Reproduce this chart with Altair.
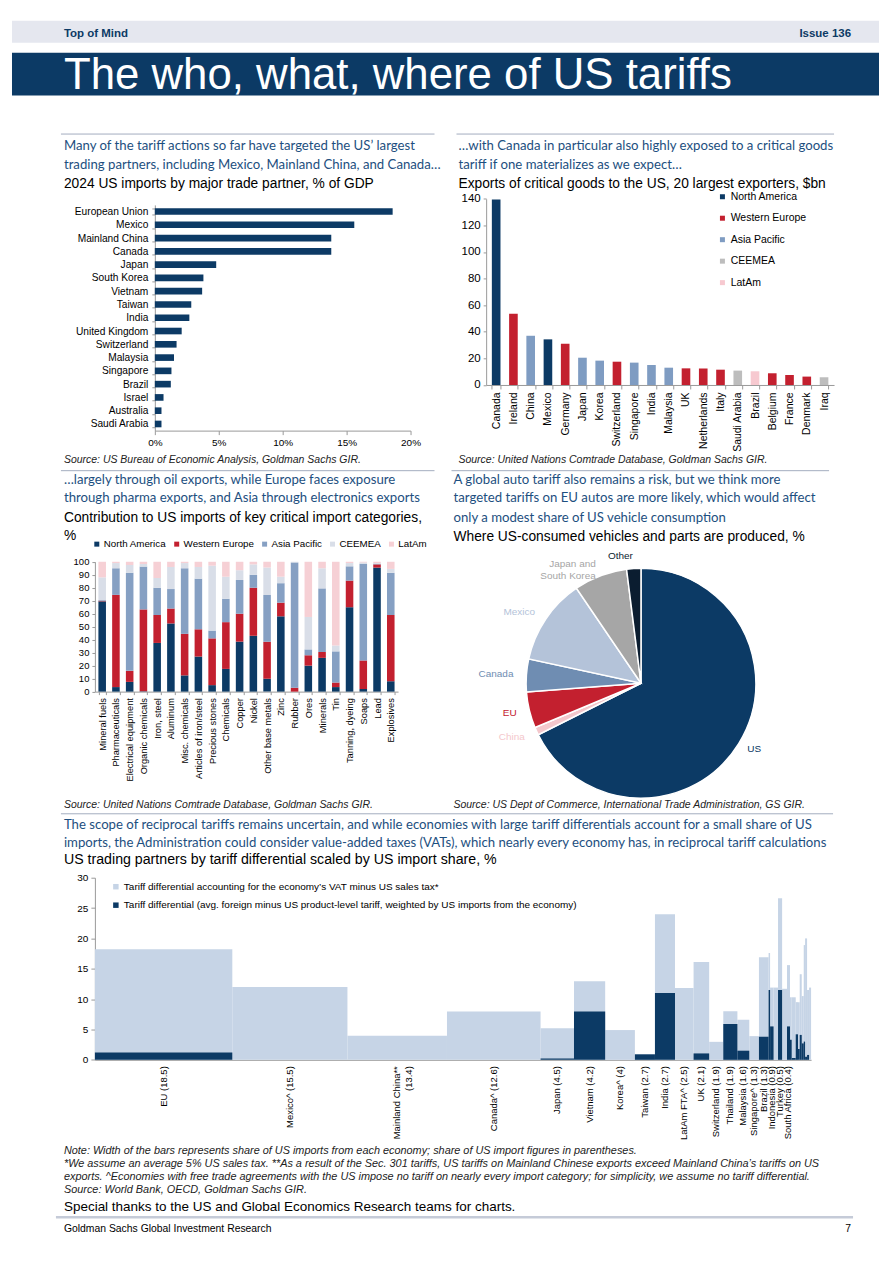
import altair as alt
import pandas as pd

# ---------------- data ----------------
partners = ["European Union", "Mexico", "Mainland China", "Canada", "Japan", "South Korea",
            "Vietnam", "Taiwan", "India", "United Kingdom", "Switzerland", "Malaysia",
            "Singapore", "Brazil", "Israel", "Australia", "Saudi Arabia"]
imports_gdp = [18.6, 15.6, 13.8, 13.8, 4.8, 3.8, 3.7, 2.85, 2.7, 2.1, 1.7, 1.5, 1.3, 1.25, 0.68, 0.52, 0.52]

exporters = ["Canada", "Ireland", "China", "Mexico", "Germany", "Japan", "Korea", "Switzerland",
             "Singapore", "India", "Malaysia", "UK", "Netherlands", "Italy", "Saudi Arabia",
             "Brazil", "Belgium", "France", "Denmark", "Iraq"]
critical_exports = [139.5, 53.6, 37.0, 34.3, 31.0, 20.5, 18.3, 17.5, 16.8, 15.0, 13.0, 12.5,
                    12.3, 11.5, 10.8, 10.3, 8.8, 7.5, 6.3, 5.8]
exporter_region = ["North America", "Western Europe", "Asia Pacific", "North America", "Western Europe",
                   "Asia Pacific", "Asia Pacific", "Western Europe", "Asia Pacific", "Asia Pacific",
                   "Asia Pacific", "Western Europe", "Western Europe", "Western Europe", "CEEMEA",
                   "LatAm", "Western Europe", "Western Europe", "Western Europe", "CEEMEA"]
regions = ["North America", "Western Europe", "Asia Pacific", "CEEMEA", "LatAm"]

categories = ["Mineral fuels", "Pharmaceuticals", "Electrical equipment", "Organic chemicals",
              "Iron, steel", "Aluminum", "Misc. chemicals", "Articles of iron/steel",
              "Precious stones", "Chemicals", "Copper", "Nickel", "Other base metals", "Zinc",
              "Rubber", "Ores", "Minerals", "Tin", "Tanning, dyeing", "Soaps", "Lead", "Explosives"]
share_na = [69.5, 3.5, 7.5, 0.3, 37.5, 52.5, 12.5, 27, 5, 17.5, 38.5, 43, 10, 58, 0, 20, 26, 3.5, 65, 2, 95.5, 8]
share_we = [0.5, 71, 8.5, 63, 21.5, 11.5, 32, 21, 36, 36, 21.5, 37, 28.5, 10.5, 3, 8, 4.5, 3.5, 20.5, 22, 2.5, 51]
share_ap = [0.5, 20.5, 75.5, 33, 21, 15, 50.5, 39, 6, 18, 26, 10, 36, 15, 96.5, 4.5, 49, 24, 11, 74.5, 0.5, 32.5]
share_ce = [17.5, 4, 6, 2, 7.5, 17, 4, 9, 50, 17, 7.5, 8, 21, 5, 0.5, 25, 15.5, 4.5, 2.5, 1, 0.5, 3]
share_la = [12, 1, 2.5, 1.7, 12.5, 4, 1, 4, 3, 11.5, 6.5, 2, 4.5, 11.5, 0, 42.5, 5, 64.5, 1, 0.5, 1, 5.5]

origins = ["US", "China", "EU", "Canada", "Mexico", "Japan and\nSouth Korea", "Other"]
vehicle_share = [67.6, 1.1, 5.1, 4.6, 12.1, 7.5, 2.0]

economies = ["EU (18.5)", "Mexico^ (15.5)", "Mainland China**\n(13.4)", "Canada^ (12.6)",
             "Japan (4.5)", "Vietnam (4.2)", "Korea^ (4)", "Taiwan (2.7)", "India (2.7)",
             "LatAm FTA^ (2.5)", "UK (2.1)", "Switzerland (1.9)", "Thailand (1.9)",
             "Malaysia (1.6)", "Singapore^ (1.3)", "Brazil (1.3)", "", "Indonesia (0.9)", "",
             "Turkey (0.5)", "", "South Africa (0.4)", "", "", "", "", "", "", "", "", "", ""]
import_share = [18.5, 15.5, 13.4, 12.6, 4.5, 4.2, 4.0, 2.7, 2.7, 2.5, 2.1, 1.9, 1.9, 1.6, 1.3, 1.3,
                0.2, 0.47, 0.6, 0.55, 0.66, 0.4, 0.23, 0.54, 0.31, 0.23, 0.27, 0.27, 0.18, 0.27, 0.27, 0.27]
vat_diff = [18.2, 12.0, 3.95, 7.95, 5.2, 12.95, 4.9, 0.9, 24.0, 11.85, 16.1, 2.96, 8.0, 6.6, 3.9, 16.9,
            17.6, 11.9, 11.9, 26.6, 11.7, 15.6, 10.3, 10.3, 9.5, 9.5, 14.1, 10.5, 18.9, 20.0, 11.5, 11.9]
tariff_diff = [1.2, 0, 0, 0, 0.2, 7.95, 0, 0.9, 11.0, 0, 1.05, 0, 5.9, 1.5, 0, 3.8,
               11.5, 5.5, 0, 11.5, 0, 5.5, 3.3, 0.3, 4.2, 1.8, 4.1, 2.7, 3.0, 0.5, 0.8, 0]

# ---------------- text ----------------
PAGE_TITLE = "The who, what, where of US tariffs"
h1 = ["Many of the tariff actions so far have targeted the US\u2019 largest",
      "trading partners, including Mexico, Mainland China, and Canada\u2026"]
s1 = "2024 US imports by major trade partner, % of GDP"
src1 = "Source: US Bureau of Economic Analysis, Goldman Sachs GIR."
h2 = ["\u2026with Canada in particular also highly exposed to a critical goods",
      "tariff if one materializes as we expect\u2026"]
s2 = "Exports of critical goods to the US, 20 largest exporters, $bn"
src2 = "Source: United Nations Comtrade Database, Goldman Sachs GIR."
h3 = ["\u2026largely through oil exports, while Europe faces exposure",
      "through pharma exports, and Asia through electronics exports"]
s3 = ["Contribution to US imports of key critical import categories,", "%"]
src3 = "Source: United Nations Comtrade Database, Goldman Sachs GIR."
h4 = ["A global auto tariff also remains a risk, but we think more",
      "targeted tariffs on EU autos are more likely, which would affect",
      "only a modest share of US vehicle consumption"]
s4 = "Where US-consumed vehicles and parts are produced, %"
src4 = "Source: US Dept of Commerce, International Trade Administration, GS GIR."
h5 = ["The scope of reciprocal tariffs remains uncertain, and while economies with large tariff differentials account for a small share of US",
      "imports, the Administration could consider value-added taxes (VATs), which nearly every economy has, in reciprocal tariff calculations"]
s5 = "US trading partners by tariff differential scaled by US import share, %"
LEG_VAT = "Tariff differential accounting for the economy\u2019s VAT minus US sales tax*"
LEG_TAR = "Tariff differential (avg. foreign minus US product-level tariff, weighted by US imports from the economy)"
notes = ["Note: Width of the bars represents share of US imports from each economy; share of US import figures in parentheses.",
         "*We assume an average 5% US sales tax. **As a result of the Sec. 301 tariffs, US tariffs on Mainland Chinese exports exceed Mainland China\u2019s tariffs on US",
         "exports. ^Economies with free trade agreements with the US impose no tariff on nearly every import category; for simplicity, we assume no tariff differential.",
         "Source: World Bank, OECD, Goldman Sachs GIR."]
thanks = "Special thanks to the US and Global Economics Research teams for charts."
footer = "Goldman Sachs Global Investment Research"

# ---------------- style ----------------
SANS = "Liberation Sans, Arial, sans-serif"
HEAD = "Lato, Open Sans, sans-serif"
NAVY = "#0c3a65"
RED = "#c3202f"
BLUE_TXT = "#1d4f80"
RULE = "#a3adbf"
AX = "#9a9a9a"
LIGHT = "#c6d4e6"
HS = 13.2      # headline size
SS = 13.8      # chart title size
FULLW = 868    # total drawing width


def tx(s, x, y, size, color="#000000", font=SANS, weight="normal", style="normal",
       align="left", baseline="middle", limit=0):
    props = dict(font=font, fontSize=size, color=color, fontWeight=weight,
                 fontStyle=style, align=align, baseline=baseline)
    if limit:
        props["limit"] = limit
    return alt.Chart(pd.DataFrame({"t": [s]})).mark_text(**props).encode(
        x=alt.value(x), y=alt.value(y), text="t:N")


def hline(x1, x2, y, color=RULE, width=1.0):
    return alt.Chart(pd.DataFrame({"t": [0]})).mark_rule(
        color=color, strokeWidth=width).encode(
        x=alt.value(x1), x2=alt.value(x2), y=alt.value(y))


def band(x1, x2, y1, y2, color):
    return alt.Chart(pd.DataFrame({"t": [0]})).mark_rect(color=color).encode(
        x=alt.value(x1), x2=alt.value(x2), y=alt.value(y1), y2=alt.value(y2))


def heads(lines, x, ys, limit, size=HS, color=BLUE_TXT, font=HEAD):
    return [tx(l, x, y, size, color, font, limit=limit) for l, y in zip(lines, ys)]


def ax(**kw):
    base = dict(title=None, grid=False, labelFont=SANS, domainColor=AX, tickColor=AX,
                labelColor="#000000")
    base.update(kw)
    return alt.Axis(**base)


# ---------------- header ----------------
header = alt.layer(
    band(0, FULLW, 12, 34, "#e5e7ef"),
    band(0, FULLW, 44, 87, NAVY),
    tx("Top of Mind", 52, 25, 11.5, NAVY, weight="bold"),
    tx("Issue 136", 840, 25, 11.5, NAVY, weight="bold", align="right"),
    tx(PAGE_TITLE, 52, 80, 43.8, "#ffffff", baseline="alphabetic"),
).properties(width=FULLW, height=120)

# ---------------- panel 1 (432 x 337) ----------------
P1W, P1H = 432, 337
df1 = pd.DataFrame({"partner": partners, "value": imports_gdp})
bars1 = alt.Chart(df1).mark_bar(color=NAVY).encode(
    x=alt.X("value:Q", scale=alt.Scale(domain=[0, 20], range=[143, 399]),
            axis=ax(values=[0, 5, 10, 15, 20], labelExpr="datum.value + '%'", tickSize=4,
                    labelPadding=3, labelFontSize=10, labelFlush=False,
                    offset=-(P1H - 297.4))),
    y=alt.Y("partner:N", sort=partners,
            scale=alt.Scale(range=[71.4, 297.4], paddingInner=0.5, paddingOuter=0.25),
            axis=ax(tickBand="extent", tickSize=3, labelPadding=4, labelFontSize=10.2, offset=-143)),
)
p1 = alt.layer(
    bars1,
    hline(49, 423, 0.5),
    *heads(h1, 52, [12.7, 31.3], 378),
    tx(s1, 52, 50.3, SS, limit=378),
    tx(src1, 52, 327, 10.5, "#222222", style="italic", limit=378),
).properties(width=P1W, height=P1H)

# ---------------- panel 2 ----------------
P2W, P2H = FULLW - 432, 337
df2 = pd.DataFrame({"exporter": exporters, "value": critical_exports, "region": exporter_region})
bars2 = alt.Chart(df2).mark_bar().encode(
    x=alt.X("exporter:N", sort=exporters,
            scale=alt.Scale(range=[37.7, 386], paddingInner=0.5, paddingOuter=0.33),
            axis=ax(labelAngle=270, labelAlign="right", labelBaseline="middle", tickBand="extent",
                    tickSize=4, labelPadding=3, labelFontSize=10.5, offset=-(P2H - 251.7))),
    y=alt.Y("value:Q", scale=alt.Scale(domain=[0, 140], range=[251.7, 65.3]),
            axis=ax(values=[0, 20, 40, 60, 80, 100, 120, 140], tickSize=3, labelPadding=3,
                    labelFontSize=11.5, offset=-37.7)),
    color=alt.Color("region:N",
                    scale=alt.Scale(domain=regions,
                                    range=[NAVY, RED, "#7f9cc2", "#bdbdbd", "#f7c9d0"]),
                    legend=alt.Legend(title=None, orient="none", legendX=269, legendY=58,
                                      symbolType="square", symbolSize=25, labelFontSize=10.5,
                                      labelFont=SANS, rowPadding=10.5, labelOffset=3,
                                      symbolStrokeWidth=0, padding=0)),
)
p2 = alt.layer(
    bars2,
    hline(8, 386, 0.5),
    *heads(h2, 10, [12.7, 31.3], 400),
    tx(s2, 10, 50.3, SS, limit=400),
    tx(src2, 10, 327, 10.5, "#222222", style="italic", limit=400),
).properties(width=P2W, height=P2H)

row1 = alt.hconcat(p1, p2, spacing=0).resolve_scale(color="independent")

# ---------------- panel 3 (432 x 343) ----------------
P3W, P3H = 432, 343
rows3 = []
for i, c in enumerate(categories):
    for j, arr in enumerate([share_na, share_we, share_ap, share_ce, share_la]):
        rows3.append({"category": c, "region": regions[j], "share": arr[i], "ord": j})
df3 = pd.DataFrame(rows3)
bars3 = alt.Chart(df3).mark_bar().encode(
    x=alt.X("category:N", sort=categories,
            scale=alt.Scale(range=[83, 386.5], paddingInner=0.45, paddingOuter=0.255),
            axis=ax(labelAngle=270, labelAlign="right", labelBaseline="middle", tickBand="extent",
                    tickSize=3, labelPadding=3, labelFontSize=9.3, offset=-(P3H - 221.7))),
    y=alt.Y("share:Q", stack="zero", scale=alt.Scale(domain=[0, 100], range=[221.7, 91.7]),
            axis=ax(values=list(range(0, 101, 10)), tickSize=3, labelPadding=3, labelFontSize=9.5,
                    offset=-83)),
    color=alt.Color("region:N",
                    scale=alt.Scale(domain=regions,
                                    range=[NAVY, RED, "#86a0c3", "#d9dee8", "#f6d0d5"]),
                    legend=alt.Legend(title=None, orient="none", direction="horizontal",
                                      legendX=80, legendY=69, symbolType="square", symbolSize=25,
                                      labelFontSize=9.8, labelFont=SANS, columnPadding=5,
                                      labelOffset=2, symbolStrokeWidth=0, padding=0)),
    order=alt.Order("ord:Q"),
)
p3 = alt.layer(
    bars3,
    hline(49, 423, 0.5),
    *heads(h3, 52, [10, 28.3], 378),
    tx(s3[0], 52, 47.7, SS, limit=378),
    tx(s3[1], 52, 66, SS),
    tx(src3, 52, 335, 10.5, "#222222", style="italic", limit=378),
).properties(width=P3W, height=P3H)

# ---------------- panel 4 ----------------
P4W, P4H = FULLW - 432, 343
CX, CY = 197.7, 213.3
df4 = pd.DataFrame({"origin": origins, "share": vehicle_share, "idx": list(range(len(origins)))})
pie_scale = alt.Scale(domain=origins,
                      range=[NAVY, "#f4c7cc", RED, "#6f8db2", "#b4c3d9", "#a6a6a6", "#0b1d30"])
arcs = alt.Chart(df4).mark_arc(radius=115, stroke="#ffffff", strokeWidth=1.5).encode(
    theta=alt.Theta("share:Q", stack=True),
    color=alt.Color("origin:N", scale=pie_scale, legend=None),
    order=alt.Order("idx:Q"),
    x=alt.value(CX), y=alt.value(CY),
)
pie_labels = alt.Chart(df4).transform_calculate(
    lbl="datum.origin == 'US' ? '' : datum.origin"
).mark_text(radius=128, align="right", baseline="middle", fontSize=10, font=SANS,
            lineBreak="\n").encode(
    theta=alt.Theta("share:Q", stack=True),
    color=alt.Color("origin:N", scale=pie_scale, legend=None),
    order=alt.Order("idx:Q"),
    text="lbl:N",
    x=alt.value(CX), y=alt.value(CY),
)
p4 = alt.layer(
    arcs, pie_labels,
    tx("US", 311, 278.7, 10, NAVY, align="center"),
    hline(8, 386, 0.5),
    *heads(h4, 10, [10, 28.3, 47.7], 400),
    tx(s4, 10, 66.7, SS, limit=400),
    tx(src4, 10, 335, 10.5, "#222222", style="italic", limit=400),
).properties(width=P4W, height=P4H)

row2 = alt.hconcat(p3, p4, spacing=0).resolve_scale(color="independent")

# ---------------- panel 5 ----------------
P5W, P5H = FULLW, 428
df5 = pd.DataFrame({"econ": economies, "w": import_share, "vat": vat_diff, "tar": tariff_diff})
df5["x1"] = df5["w"].cumsum()
df5["x0"] = df5["x1"] - df5["w"]
df5["mid"] = (df5["x0"] + df5["x1"]) / 2
long5 = pd.concat([
    pd.DataFrame({"x0": df5["x0"], "x1": df5["x1"], "val": df5["vat"], "series": LEG_VAT}),
    pd.DataFrame({"x0": df5["x0"], "x1": df5["x1"], "val": df5["tar"], "series": LEG_TAR}),
], ignore_index=True)

x5_scale = alt.Scale(nice=False, zero=True, range=[83, 800])
x5_axis = ax(labels=False, ticks=False, offset=-(P5H - 247.3))
bars5 = alt.Chart(long5).mark_rect().encode(
    x=alt.X("x0:Q", scale=x5_scale, axis=x5_axis),
    x2="x1:Q",
    y=alt.Y("val:Q", scale=alt.Scale(domain=[0, 30], range=[247.3, 65]),
            axis=ax(values=[0, 5, 10, 15, 20, 25, 30], tickSize=4, labelPadding=3,
                    labelFontSize=10, offset=-83)),
    y2=alt.datum(0),
    color=alt.Color("series:N", scale=alt.Scale(domain=[LEG_VAT, LEG_TAR], range=[LIGHT, NAVY]),
                    legend=alt.Legend(title=None, orient="none", legendX=99, legendY=69,
                                      symbolType="square", symbolSize=30, labelFontSize=10,
                                      labelFont=SANS, rowPadding=8.5, labelOffset=3,
                                      labelLimit=700, symbolStrokeWidth=0, padding=0)),
)
labels5 = alt.Chart(df5[df5["econ"] != ""]).mark_text(
    angle=270, align="right", baseline="middle", fontSize=9.5, font=SANS, lineBreak="\n"
).encode(
    x=alt.X("mid:Q", scale=x5_scale, axis=x5_axis),
    y=alt.value(253.7),
    text="econ:N",
)
note_layers = [tx(n, 52, y, 10.9, "#222222", style="italic", limit=800)
               for n, y in zip(notes, [338.7, 352, 364.7, 378])]
p5 = alt.layer(
    bars5, labels5,
    hline(49, 822, 1),
    *heads(h5, 52, [12, 30.3], 800),
    tx(s5, 52, 47, 14.2, limit=800),
    *note_layers,
    tx(thanks, 52, 394.7, 13.5),
    hline(44, 842, 405, color="#c5cbd8", width=2.5),
    tx(footer, 52, 417, 10.4),
    tx("7", 840, 417, 10.4, align="right"),
).properties(width=P5W, height=P5H)

chart = alt.vconcat(header, row1, row2, p5, spacing=0).resolve_scale(
    color="independent"
).properties(padding=0, background="#ffffff").configure_view(stroke=None)

chart.save("out.html", embed_options={"renderer": "svg", "actions": False})
